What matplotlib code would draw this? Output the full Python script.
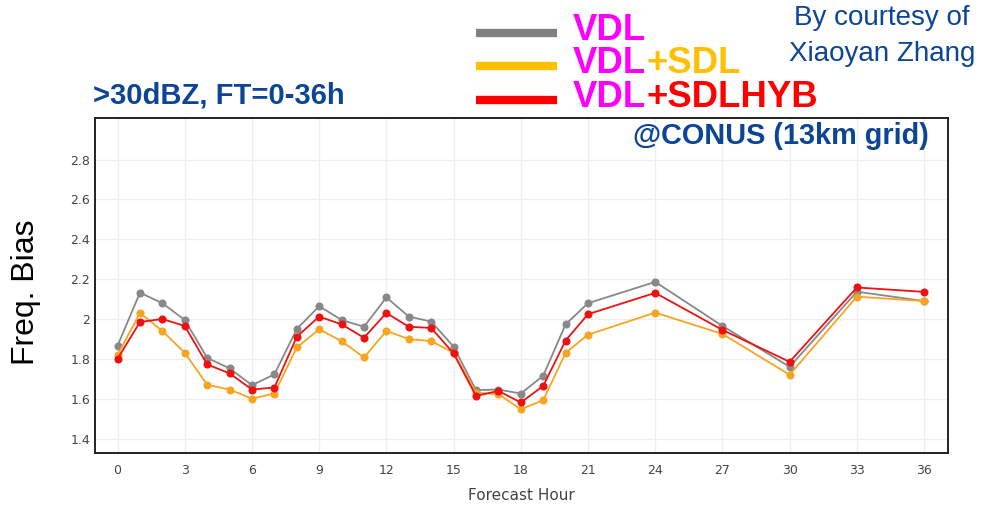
import numpy as np
import matplotlib
matplotlib.use("Agg")
import matplotlib.pyplot as plt
from matplotlib.ticker import FixedLocator, FuncFormatter

# forecast hours and frequency bias (>30 dBZ, CONUS 13km)
hours = [0, 1, 2, 3, 4, 5, 6, 7, 8, 9, 10, 11, 12, 13, 14, 15, 16, 17, 18, 19, 20, 21,
         24, 27, 30, 33, 36]
bias_vdl = [1.866, 2.132, 2.079, 1.995, 1.805, 1.752, 1.668, 1.722, 1.950, 2.064,
            1.995, 1.961, 2.108, 2.012, 1.987, 1.861, 1.643, 1.646, 1.626, 1.715,
            1.973, 2.079, 2.186, 1.965, 1.760, 2.137, 2.090]
bias_sdl = [1.820, 2.030, 1.940, 1.830, 1.670, 1.646, 1.600, 1.626, 1.857, 1.948,
            1.889, 1.807, 1.940, 1.899, 1.889, 1.830, 1.630, 1.623, 1.547, 1.592,
            1.830, 1.921, 2.032, 1.925, 1.720, 2.112, 2.090]
bias_hyb = [1.800, 1.985, 2.000, 1.965, 1.772, 1.727, 1.646, 1.656, 1.911, 2.012,
            1.973, 1.906, 2.030, 1.961, 1.955, 1.827, 1.614, 1.639, 1.581, 1.664,
            1.892, 2.024, 2.131, 1.945, 1.785, 2.158, 2.136]

xticks = [0, 3, 6, 9, 12, 15, 18, 21, 24, 27, 30, 33, 36]
yticks = [1.4, 1.6, 1.8, 2.0, 2.2, 2.4, 2.6, 2.8]

W, H = 992, 508
BLUE = "#0c4595"
MAGENTA = "#ff00ff"

fig = plt.figure(figsize=(W / 100, H / 100), dpi=100)
ax = fig.add_axes([94.5 / W, 1 - 453.3 / H, (948 - 94.5) / W, (453.3 - 117.7) / H])

series = [(bias_vdl, "#888888"), (bias_sdl, "#f7a520"), (bias_hyb, "#ee1111")]
for vals, col in series:
    ax.plot(hours, vals, color=col, lw=1.3, marker="o", ms=4.8, mec=col, mfc=col)

ax.set_xlim(-1.03, 37.07)
ax.set_ylim(1.326, 3.01)
ax.xaxis.set_major_locator(FixedLocator(xticks))
ax.yaxis.set_major_locator(FixedLocator(yticks))
ax.yaxis.set_major_formatter(FuncFormatter(lambda v, p: ("%.1f" % v).rstrip("0").rstrip(".")))
ax.grid(True, color="#eeeeee", lw=0.9)
ax.set_axisbelow(True)
ax.tick_params(length=0, labelsize=9, labelcolor="#444444")
ax.tick_params(axis="x", pad=8)
ax.tick_params(axis="y", pad=3)
for sp in ax.spines.values():
    sp.set_color("#222222")
    sp.set_linewidth(1.4)


def px(x, y):
    return x / W, 1 - y / H


fig.text(*px(521, 496), "Forecast Hour", fontsize=11, color="#444444",
         ha="center", va="center")
fig.text(*px(26, 292), "Freq. Bias", rotation=90, fontsize=23, family="Liberation Sans",
         ha="center", va="center", color="black")
fig.text(*px(93, 96), ">30dBZ, FT=0-36h", fontsize=21, family="Liberation Sans",
         weight="bold", color=BLUE, ha="left", va="center")
fig.text(*px(929, 136), "@CONUS (13km grid)", fontsize=20.8, family="Liberation Sans",
         weight="bold", color=BLUE, ha="right", va="center")
fig.text(*px(882, 18), "By courtesy of", fontsize=20, family="Liberation Sans",
         color=BLUE, ha="center", va="center")
fig.text(*px(882, 54), "Xiaoyan Zhang", fontsize=20, family="Liberation Sans",
         color=BLUE, ha="center", va="center")

# legend: thick swatches plus two-colour labels
legend_rows = [(32.7, "#808080", None, None),
               (65.5, "#ffc000", "+SDL", "#ffc000"),
               (99.5, "#ff0000", "+SDLHYB", "#ff0000")]
renderer = fig.canvas.get_renderer()
for y, swatch, suffix, scol in legend_rows:
    fig.add_artist(plt.Line2D([476 / W, 557 / W], [1 - y / H] * 2, color=swatch, lw=6,
                              solid_capstyle="butt", transform=fig.transFigure))
    t = fig.text(*px(573, y - 2), "VDL", fontsize=26.3, family="Liberation Sans",
                 weight="bold", color=MAGENTA, ha="left", va="center")
    if suffix:
        bb = t.get_window_extent(renderer)
        fig.text(bb.x1 / W, 1 - (y - 2) / H, suffix, fontsize=26.3, family="Liberation Sans",
                 weight="bold", color=scol, ha="left", va="center")

fig.savefig("out.png", dpi=100)
